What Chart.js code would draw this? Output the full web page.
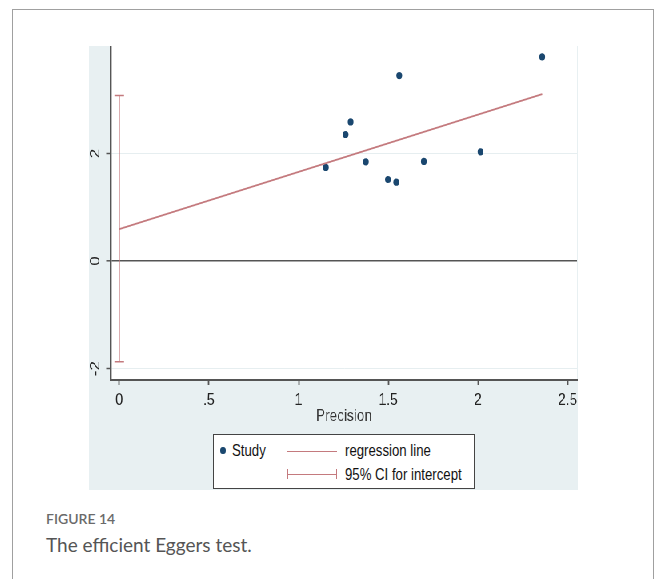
<!DOCTYPE html>
<html>
<head>
<meta charset="utf-8">
<script src="https://cdn.jsdelivr.net/npm/chart.js@4/dist/chart.umd.min.js"></script>
<style>
  body { margin: 0; background: #fff; }
  .frame {
    position: absolute; left: 12px; top: 9px; width: 642px; height: 600px;
    border: 1.5px solid #a0a0a0; border-bottom: none; box-sizing: border-box;
  }
  /* Stata export is horizontally squeezed, so draw wide and squeeze */
  .graph {
    position: absolute; left: 89px; top: 46px; width: 611px; height: 444px;
    background: #e8f0f2; transform: scaleX(0.8); transform-origin: 0 0;
  }
  .graph canvas { position: absolute; left: 0; top: 0; }
  .legend {
    position: absolute; left: 213px; top: 434px; width: 262px; height: 55px;
    background: #fff; border: 1px solid #444; box-sizing: border-box;
    font-family: "Liberation Sans", Arial, sans-serif;
    font-size: 16.5px; color: #111;
  }
  .legend .item {
    position: absolute; white-space: nowrap; line-height: 20px;
    transform: scaleX(0.8); transform-origin: 0 50%;
  }
  .legend .dot {
    position: absolute; width: 5.5px; height: 7px; border-radius: 50%; background: #1a476f;
  }
  .legend .ln { position: absolute; height: 0; border-top: 1.5px solid #c47a7e; }
  .legend .cap { position: absolute; width: 0; height: 10px; border-left: 1.5px solid #c47a7e; }
  .caption { position: absolute; left: 46px; font-family: Lato, "Open Sans", sans-serif; }
  .fig { top: 510px; font-size: 14px; font-weight: 600; color: #6a6a6a; }
  .desc { top: 533px; font-size: 19px; color: #555; }
</style>
</head>
<body>
<div class="frame"></div>
<div class="graph"><canvas id="chart" width="611" height="444"></canvas></div>
<div class="legend">
  <span class="dot" style="left:6px; top:12px;"></span>
  <span class="item" style="left:18px; top:5px;">Study</span>
  <span class="ln" style="left:73px; top:16px; width:50px;"></span>
  <span class="item" style="left:131px; top:5px;">regression line</span>
  <span class="ln" style="left:73px; top:39px; width:50px;"></span>
  <span class="cap" style="left:73px; top:34px;"></span>
  <span class="cap" style="left:122px; top:34px;"></span>
  <span class="item" style="left:131px; top:29px;">95% CI for intercept</span>
</div>
<div class="caption fig">FIGURE 14</div>
<div class="caption desc">The efficient Eggers test.</div>
<script>
// study points: precision vs standardised effect
const precision = [1.152, 1.262, 1.290, 1.375, 1.498, 1.544, 1.561, 1.698, 2.014, 2.358];
const stdEffect = [1.742, 2.355, 2.589, 1.846, 1.518, 1.468, 3.450, 1.853, 2.032, 3.797];

// regression line endpoints (precision, effect)
const regPrecision = [0, 2.358];
const regEffect = [0.595, 3.104];

// 95% CI for intercept
const ciPrecision = [0, 0];
const ciBounds = [-1.87, 3.08];

const xTicks = [0, 0.5, 1, 1.5, 2, 2.5];
const xTickLabels = ["0", ".5", "1", "1.5", "2", "2.5"];
const yTicks = [-2, 0, 2];
const yTickLabels = ["-2", "0", "2"];

const axisFont = { family: "'Liberation Sans', Arial, sans-serif", size: 17 };

const toPoints = (xs, ys) => xs.map((x, i) => ({ x: x, y: ys[i] }));

// white plot region on the tinted graph region
const plotBackground = {
  id: "plotBackground",
  beforeDraw(chart) {
    const { ctx, chartArea } = chart;
    ctx.save();
    ctx.fillStyle = "#ffffff";
    ctx.fillRect(chartArea.left, chartArea.top, chartArea.right - chartArea.left, chartArea.bottom - chartArea.top);
    ctx.restore();
  },
};

new Chart(document.getElementById("chart").getContext("2d"), {
  type: "scatter",
  data: {
    datasets: [
      {
        label: "95% CI for intercept",
        data: toPoints(ciPrecision, ciBounds),
        showLine: true,
        borderColor: "#c47a7e",
        borderWidth: 1.6,
        pointStyle: "line",
        pointRadius: 6,
        pointBorderColor: "#c47a7e",
        pointBorderWidth: 1.5,
      },
      {
        label: "regression line",
        data: toPoints(regPrecision, regEffect),
        showLine: true,
        borderColor: "#c47a7e",
        borderWidth: 1.8,
        pointRadius: 0,
      },
      {
        label: "Study",
        data: toPoints(precision, stdEffect),
        backgroundColor: "#1a476f",
        borderColor: "#1a476f",
        pointRadius: 3.6,
        borderWidth: 0,
      },
    ],
  },
  options: {
    responsive: false,
    animation: false,
    layout: { autoPadding: false, padding: { top: 0, right: 1, left: 0, bottom: 0 } },
    plugins: {
      legend: { display: false },
      tooltip: { enabled: false },
    },
    scales: {
      x: {
        type: "linear",
        min: -0.046,
        max: 2.552,
        afterBuildTicks: (scale) => {
          scale.ticks = xTicks.map((v) => ({ value: v }));
        },
        afterFit: (scale) => {
          scale.height = 110;
          scale.paddingLeft = 0;
          scale.paddingRight = 0;
        },
        ticks: {
          color: "#222",
          font: axisFont,
          padding: 5,
          maxRotation: 0,
          callback: (value) => xTickLabels[xTicks.indexOf(value)],
        },
        grid: {
          drawOnChartArea: false,
          drawTicks: true,
          tickLength: 5,
          tickColor: "#555",
          tickWidth: 1.8,
        },
        border: { display: true, color: "#555", width: 2 },
        title: {
          display: true,
          text: "Precision",
          color: "#333",
          font: axisFont,
          padding: { top: 0, bottom: 63 },
        },
      },
      y: {
        type: "linear",
        min: -2.21,
        max: 4.0,
        afterBuildTicks: (scale) => {
          scale.ticks = yTicks.map((v) => ({ value: v }));
        },
        afterFit: (scale) => {
          scale.width = 27.5;
          scale.paddingTop = 0;
          scale.paddingBottom = 0;
        },
        ticks: {
          color: "#222",
          font: axisFont,
          padding: 6,
          minRotation: 90,
          maxRotation: 90,
          crossAlign: "center",
          callback: (value) => yTickLabels[yTicks.indexOf(value)],
        },
        grid: {
          drawOnChartArea: true,
          drawTicks: true,
          tickLength: 6,
          tickColor: "#555",
          tickWidth: 1.5,
          color: (ctx) => (ctx.tick && ctx.tick.value === 0 ? "#555" : "#e6eef0"),
          lineWidth: (ctx) => (ctx.tick && ctx.tick.value === 0 ? 1.6 : 1),
        },
        border: { display: true, color: "#555", width: 2.4 },
      },
    },
  },
  plugins: [plotBackground],
});
</script>
</body>
</html>
